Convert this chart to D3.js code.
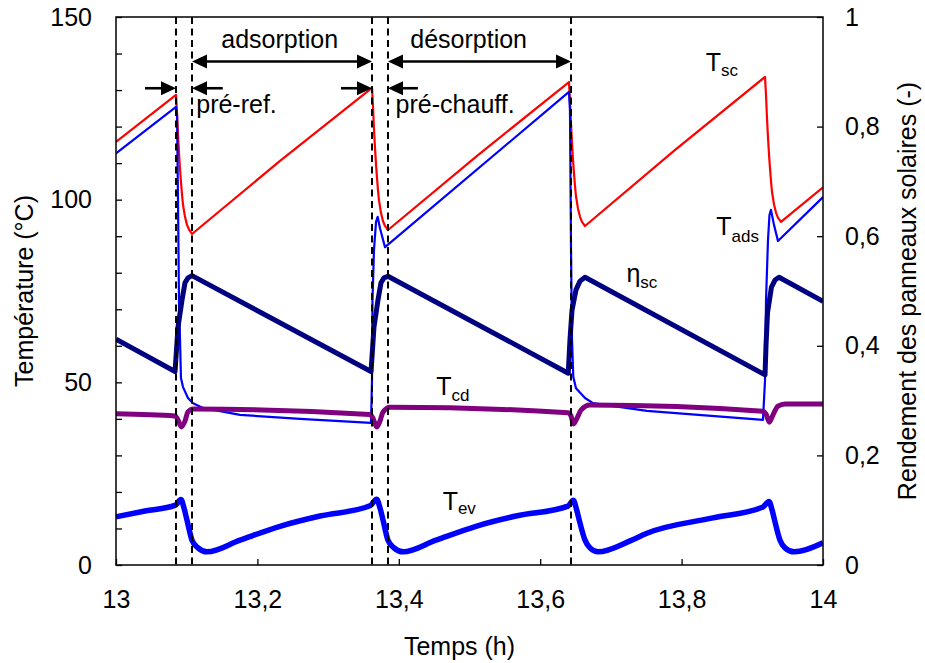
<!DOCTYPE html>
<html>
<head>
<meta charset="utf-8">
<script src="https://cdn.jsdelivr.net/npm/d3@7"></script>
<style>
  html, body { margin: 0; padding: 0; background: #fff; }
  svg { display: block; font-family: "Liberation Sans", Arial, sans-serif; }
</style>
</head>
<body>
<svg id="chart" width="925" height="663"></svg>
<script>
// ---------------- data ----------------
const xTicks = [13, 13.2, 13.4, 13.6, 13.8, 14];
const yLeftTicks = [0, 10, 20, 30, 40, 50, 60, 70, 80, 90, 100, 110, 120, 130, 140, 150];
const yLeftLabels = [0, 50, 100, 150];
const yRightTicks = [0, 0.2, 0.4, 0.6, 0.8, 1];

// phase boundaries (dashed lines), h
const phaseTimes = [13.0849, 13.1075, 13.3621, 13.3847, 13.6436];

// T_sc (red, °C)
const tscTime = [13.000,
  13.0849, 13.0863, 13.0877, 13.0891, 13.0906, 13.0920, 13.0934, 13.0948, 13.0976, 13.1005, 13.1033, 13.1075,
  13.2320,
  13.3621, 13.3635, 13.3649, 13.3663, 13.3678, 13.3692, 13.3706, 13.3720, 13.3748, 13.3777, 13.3805, 13.3847,
  13.5120,
  13.6407, 13.6421, 13.6435, 13.6449, 13.6464, 13.6478, 13.6492, 13.6506, 13.6534, 13.6563, 13.6591, 13.6634,
  13.7900,
  13.9180, 13.9194, 13.9208, 13.9222, 13.9237, 13.9251, 13.9265, 13.9279, 13.9307, 13.9336, 13.9364, 13.9406,
  14.000];
const tscVal = [115.8,
  128.7, 123.8, 117.8, 112.8, 108.2, 104.6, 101.3, 98.6, 95.3, 93.1, 91.8, 90.6,
  110.6,
  130.6, 125.6, 119.4, 114.3, 109.6, 105.9, 102.5, 99.8, 96.4, 94.1, 92.8, 91.7,
  112.2,
  132.2, 127.1, 120.9, 115.7, 110.9, 107.2, 103.8, 101.0, 97.6, 95.3, 93.9, 92.8,
  113.5,
  133.6, 128.5, 122.2, 117.0, 112.2, 108.4, 105.0, 102.1, 98.7, 96.4, 95.0, 93.9,
  103.4];

// T_ads (blue thin, °C)
const tadsTime = [13.000, 13.0849, 13.0863, 13.0877, 13.0891, 13.0919, 13.0948, 13.1018, 13.1089, 13.1231, 13.1754, 13.2603, 13.3607,
  13.3621, 13.3628, 13.3649, 13.3678, 13.3701, 13.3734, 13.3805, 13.6407,
  13.6421, 13.6436, 13.6450, 13.6468, 13.6506, 13.6634, 13.6747, 13.7510, 13.9151,
  13.9180, 13.9194, 13.9222, 13.9243, 13.9264, 13.9307, 13.9363, 14.000];
const tadsVal = [112.7, 125.4, 123.2, 99.9, 72.5, 51.2, 48.7, 45.7, 44.3, 43.0, 41.1, 40.0, 38.9,
  50.6, 72.5, 86.2, 93.9, 95.3, 92.2, 87.0, 129.5,
  124.5, 86.2, 61.6, 51.5, 48.4, 45.7, 44.3, 42.2, 39.7,
  50.6, 72.5, 89.0, 95.8, 97.2, 93.1, 88.7, 100.7];

// eta_sc (navy thick, right axis, -)
const etaTime = [13.000, 13.0835, 13.0877, 13.0934, 13.0976, 13.1018, 13.1075, 13.3607, 13.3649, 13.3706, 13.3748, 13.3790, 13.3847, 13.6397, 13.6421, 13.6450, 13.6506, 13.6563, 13.6634, 13.9180, 13.9194, 13.9215, 13.9271, 13.9321, 13.9378, 14.000];
const etaVal  = [0.412, 0.353, 0.434, 0.484, 0.515, 0.524, 0.528, 0.353, 0.434, 0.484, 0.515, 0.524, 0.527, 0.350, 0.411, 0.465, 0.502, 0.518, 0.525, 0.347, 0.401, 0.460, 0.507, 0.520, 0.525, 0.481];

// T_cd (purple thick, °C)
const tcdTime = [13.000, 13.0835, 13.0877, 13.0926, 13.0976, 13.1018, 13.1089, 13.3590, 13.3635, 13.3687, 13.3734, 13.3777, 13.3876, 13.6393, 13.6436, 13.6470, 13.6521, 13.6577, 13.6704, 13.9151, 13.9194, 13.9240, 13.9293, 13.9363, 13.9462, 14.000];
const tcdVal  = [41.4, 40.8, 39.7, 37.8, 39.4, 41.9, 42.7, 41.2, 40.2, 37.8, 39.4, 41.9, 43.2, 41.7, 40.8, 38.6, 40.2, 42.4, 43.8, 42.1, 41.3, 39.1, 41.1, 43.5, 44.1, 44.1];

// T_ev (blue thick, °C)
const tevTime = [13.000, 13.041, 13.0835, 13.0919, 13.0962, 13.1004, 13.1075, 13.1160, 13.1287, 13.1754, 13.2320, 13.2885, 13.3593, 13.3687, 13.3734, 13.3777, 13.3847, 13.3932, 13.4059, 13.4526, 13.5092, 13.5658, 13.6393, 13.6468, 13.6513, 13.6556, 13.6634, 13.6704, 13.6818, 13.7270, 13.7510, 13.8444, 13.9151, 13.9236, 13.9279, 13.9321, 13.9392, 13.9462, 13.9590, 14.000];
const tevVal  = [13.2, 14.8, 16.3, 17.9, 15.6, 12.3, 6.8, 4.7, 3.6, 6.8, 10.6, 13.4, 16.2, 18.0, 15.6, 12.3, 6.8, 4.7, 3.6, 6.8, 10.6, 13.4, 16.1, 17.7, 15.3, 12.0, 6.8, 4.7, 3.6, 6.6, 8.7, 12.9, 15.9, 17.4, 15.1, 11.8, 6.8, 4.7, 3.6, 6.1];

// ---------------- layout ----------------
const W = 925, H = 663;
const margin = { top: 17, right: 102, bottom: 98, left: 116 };
const iw = W - margin.left - margin.right;
const ih = H - margin.top - margin.bottom;
const FS = 25;

const svg = d3.select("#chart");
const g = svg.append("g").attr("transform", `translate(${margin.left},${margin.top})`);

const x = d3.scaleLinear().domain([13, 14]).range([0, iw]);
const yL = d3.scaleLinear().domain([0, 150]).range([ih, 0]);
const yR = d3.scaleLinear().domain([0, 1]).range([ih, 0]);

const fr = d3.formatLocale({ decimal: ",", thousands: " ", grouping: [3], currency: ["", "€"] });
const fmt = fr.format("~g");

const zip = (ts, vs) => ts.map((t, i) => [t, vs[i]]);

svg.append("defs").append("clipPath").attr("id", "clip")
  .append("rect").attr("width", iw).attr("height", ih);

const plot = g.append("g").attr("clip-path", "url(#clip)");

const lineL = (curve) => d3.line().x(d => x(d[0])).y(d => yL(d[1])).curve(curve);
const lineR = (curve) => d3.line().x(d => x(d[0])).y(d => yR(d[1])).curve(curve);

// thin lines
plot.append("path").datum(zip(tscTime, tscVal))
  .attr("d", lineL(d3.curveLinear)).attr("fill", "none")
  .attr("stroke", "#ff0000").attr("stroke-width", 2.2).attr("stroke-linejoin", "round");
plot.append("path").datum(zip(tadsTime, tadsVal))
  .attr("d", lineL(d3.curveLinear)).attr("fill", "none")
  .attr("stroke", "#0000ff").attr("stroke-width", 2.2).attr("stroke-linejoin", "round");

// dashed phase lines
g.selectAll("line.phase").data(phaseTimes).join("line")
  .attr("class", "phase")
  .attr("x1", d => x(d)).attr("x2", d => x(d))
  .attr("y1", 0).attr("y2", ih)
  .attr("stroke", "#000").attr("stroke-width", 2).attr("stroke-dasharray", "7,4.5");

// thick lines
plot.append("path").datum(zip(etaTime, etaVal))
  .attr("d", lineR(d3.curveLinear)).attr("fill", "none")
  .attr("stroke", "#000080").attr("stroke-width", 5).attr("stroke-linejoin", "round");
plot.append("path").datum(zip(tcdTime, tcdVal))
  .attr("d", lineL(d3.curveMonotoneX)).attr("fill", "none")
  .attr("stroke", "#800080").attr("stroke-width", 5).attr("stroke-linejoin", "round");
plot.append("path").datum(zip(tevTime, tevVal))
  .attr("d", lineL(d3.curveMonotoneX)).attr("fill", "none")
  .attr("stroke", "#0000ff").attr("stroke-width", 5.5).attr("stroke-linejoin", "round");

// ---------------- axes ----------------
const axL = d3.axisLeft(yL).tickValues(yLeftTicks).tickSize(-6).tickPadding(24)
  .tickFormat(d => yLeftLabels.includes(d) ? fmt(d) : "");
const axR = d3.axisRight(yR).tickValues(yRightTicks).tickSize(-6).tickPadding(22)
  .tickFormat(d => fmt(d));
const axB = d3.axisBottom(x).tickValues(xTicks).tickSize(-6).tickPadding(25)
  .tickFormat(d => fmt(d));

const gL = g.append("g").call(axL);
const gR = g.append("g").attr("transform", `translate(${iw},0)`).call(axR);
const gB = g.append("g").attr("transform", `translate(0,${ih})`).call(axB);
[gL, gR, gB].forEach(a => {
  a.select(".domain").remove();
  a.selectAll(".tick line").attr("stroke", "#000").attr("stroke-width", 1.3);
  a.selectAll("text").attr("font-size", FS).attr("fill", "#000")
    .attr("font-family", "'Liberation Sans', Arial, sans-serif");
});

// frame
g.append("rect").attr("width", iw).attr("height", ih)
  .attr("fill", "none").attr("stroke", "#000").attr("stroke-width", 1.5);

// axis titles
svg.append("text")
  .attr("transform", `translate(24,${margin.top + ih / 2}) rotate(-90)`)
  .attr("text-anchor", "middle").attr("dy", "0.35em")
  .attr("font-size", FS).text("Température (°C)");
svg.append("text")
  .attr("transform", `translate(907,${margin.top + ih / 2}) rotate(-90)`)
  .attr("text-anchor", "middle").attr("dy", "0.35em")
  .attr("font-size", FS).text("Rendement des panneaux solaires (-)");
svg.append("text")
  .attr("x", margin.left + iw / 2 - 10).attr("y", 655)
  .attr("text-anchor", "middle")
  .attr("font-size", FS).text("Temps (h)");

// ---------------- annotations ----------------
const ann = g.append("g");
function arrowHead(tipX, y, dir) {
  const L = 15, Hh = 7;
  ann.append("path")
    .attr("d", `M${tipX},${y} L${tipX - dir * L},${y - Hh} L${tipX - dir * L},${y + Hh} Z`)
    .attr("fill", "#000");
}
function arrow(fromT, toT, yT) {
  const x1 = x(fromT), x2 = x(toT), y = yL(yT);
  const dir = x2 > x1 ? 1 : -1;
  ann.append("line").attr("x1", x1).attr("x2", x2 - dir * 10).attr("y1", y).attr("y2", y)
    .attr("stroke", "#000").attr("stroke-width", 2.6);
  arrowHead(x2, y, dir);
}
function dblArrow(t1, t2, yT) {
  const x1 = x(t1), x2 = x(t2), y = yL(yT);
  ann.append("line").attr("x1", x1 + 10).attr("x2", x2 - 10).attr("y1", y).attr("y2", y)
    .attr("stroke", "#000").attr("stroke-width", 2.6);
  arrowHead(x1, y, -1);
  arrowHead(x2, y, 1);
}
dblArrow(phaseTimes[1], phaseTimes[2], 137.8);
dblArrow(phaseTimes[3], phaseTimes[4], 137.8);
arrow(13.041, phaseTimes[0], 130.5);
arrow(13.151, phaseTimes[1], 130.5);
arrow(13.3183, phaseTimes[2], 130.5);
arrow(13.427, phaseTimes[3], 130.5);

function txt(t, v, s, anchor = "start") {
  return ann.append("text").attr("x", x(t)).attr("y", yL(v))
    .attr("text-anchor", anchor).attr("font-size", FS).text(s);
}
txt(13.2315, 141.5, "adsorption", "middle");
txt(13.4988, 141.5, "désorption", "middle");
txt(13.1135, 123.6, "pré-ref.");
txt(13.3955, 123.6, "pré-chauff.");

function subLabel(t, v, main, sub, subDy) {
  const el = ann.append("text").attr("x", x(t)).attr("y", yL(v)).attr("font-size", FS);
  el.append("tspan").text(main);
  el.append("tspan").attr("dy", subDy).attr("font-size", 17).text(sub);
}
subLabel(13.834, 135.3, "T", "sc", 5);
subLabel(13.849, 90.3, "T", "ads", 6.5);
subLabel(13.722, 77.5, "η", "sc", 6);
subLabel(13.453, 46.5, "T", "cd", 5.5);
subLabel(13.462, 15.1, "T", "ev", 4.5);
</script>
</body>
</html>
